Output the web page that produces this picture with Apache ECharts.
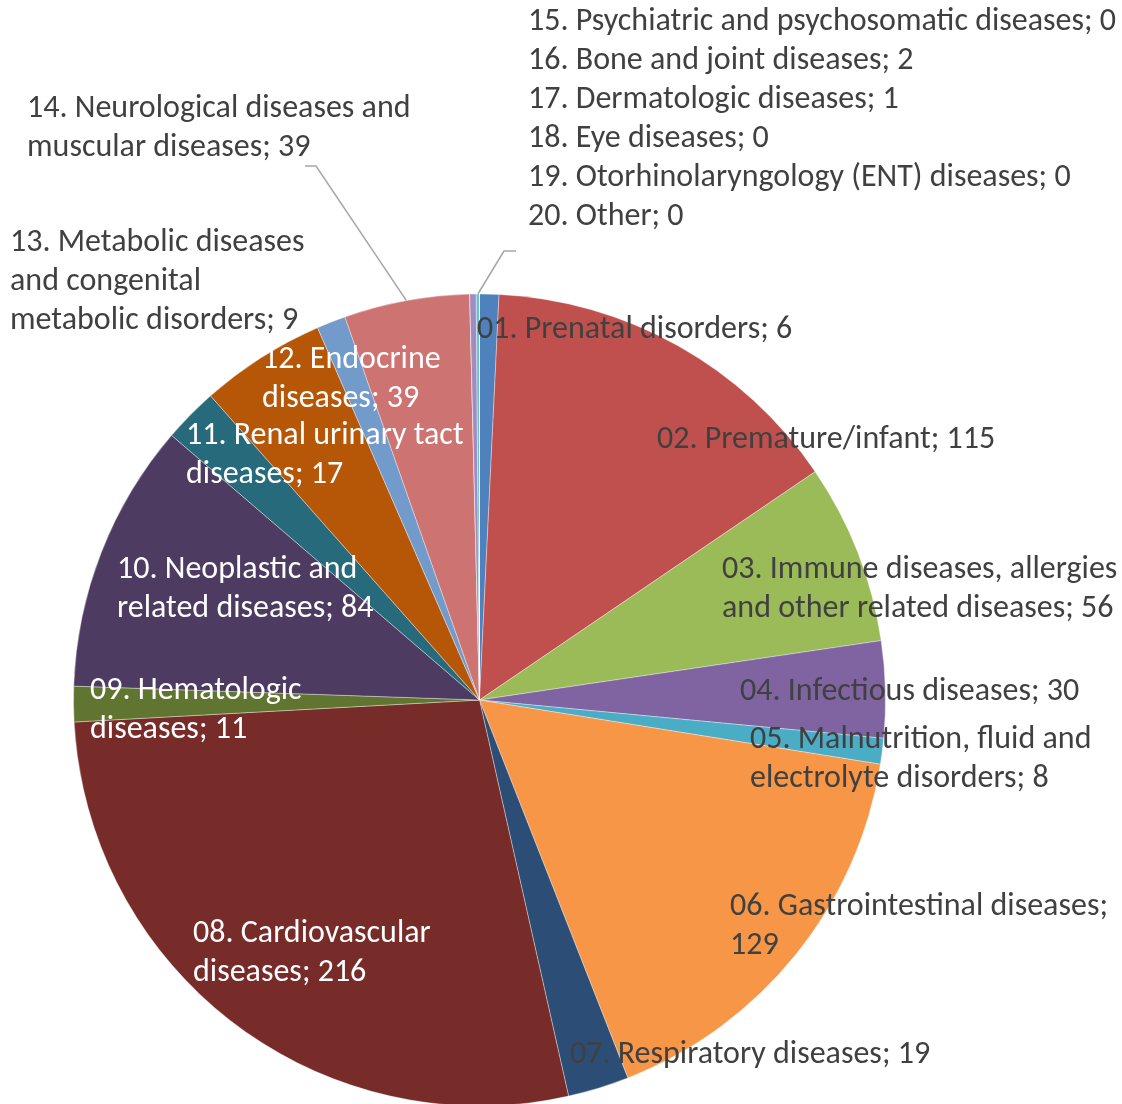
<!DOCTYPE html>
<html>
<head>
<meta charset="utf-8">
<script src="https://cdn.jsdelivr.net/npm/echarts@6/dist/echarts.min.js"></script>
<style>
  html, body { margin: 0; padding: 0; background: #ffffff; }
  #chart { width: 1122px; height: 1104px; }
</style>
</head>
<body>
<div id="chart"></div>
<script>
// Disease groups and number of cases in each
const categories = [
  '01. Prenatal disorders',
  '02. Premature/infant',
  '03. Immune diseases, allergies and other related diseases',
  '04. Infectious diseases',
  '05. Malnutrition, fluid and electrolyte disorders',
  '06. Gastrointestinal diseases',
  '07. Respiratory diseases',
  '08. Cardiovascular diseases',
  '09. Hematologic diseases',
  '10. Neoplastic and related diseases',
  '11. Renal urinary tact diseases',
  '12. Endocrine diseases',
  '13. Metabolic diseases and congenital metabolic disorders',
  '14. Neurological diseases and muscular diseases',
  '15. Psychiatric and psychosomatic diseases',
  '16. Bone and joint diseases',
  '17. Dermatologic diseases',
  '18. Eye diseases',
  '19. Otorhinolaryngology (ENT) diseases',
  '20. Other'
];
const counts = [6, 115, 56, 30, 8, 129, 19, 216, 11, 84, 17, 39, 9, 39, 0, 2, 1, 0, 0, 0];

const sliceColors = [
  '#4F81BD', '#C0504D', '#9BBB59', '#8064A2', '#4BACC6', '#F79646',
  '#2C4D75', '#772C2A', '#5F7530', '#4D3B62', '#276A7C', '#B65708',
  '#729ACA', '#CD7371', '#AFC97A', '#A08CC0', '#6FBFD4', '#F9B074',
  '#3A679C', '#9D3B38'
];

// words on each wrapped label row (the last row takes the rest)
const wordsPerLine = [[], [], [4], [], [4], [3], [], [2], [2], [3], [4], [2], [3, 2], [4], [], [], [], [], [], []];

// labels drawn in white on the dark slices
const whiteLabels = [7, 8, 9, 10, 11];

// label placement: left edge, centre of first row
const labelSpots = [
  [477, 328], [657, 438], [722, 568], [740, 690], [750, 738], [730, 905],
  [570, 1053], [193, 932], [90, 689], [117, 568], [186, 434], [262, 358],
  [10, 241], [27, 107], [528, 20], [528, 59], [528, 98], [528, 137], [528, 176], [528, 215]
];
// leader lines: elbow and end point near the label
const leaderEnds = {
  13: [[316, 166], [305, 166]],
  16: [[504, 251], [516, 251]]
};

const cx = 479.5, cy = 700, R = 406;
const LINE_H = 39;
const FONT_SIZE = 32;
const total = counts.reduce((a, b) => a + b, 0);

function wrapLabel(i) {
  const words = (categories[i] + '; ' + counts[i]).split(' ');
  const rows = [];
  let k = 0;
  wordsPerLine[i].forEach(function (n) { rows.push(words.slice(k, k + n).join(' ')); k += n; });
  rows.push(words.slice(k).join(' '));
  return rows.join('\n');
}

// point on the rim at the middle of slice i (clockwise from 12 o'clock)
function rimPoint(i) {
  let before = 0;
  for (let j = 0; j < i; j++) before += counts[j];
  const mid = (before + counts[i] / 2) / total * Math.PI * 2;
  return [cx + R * Math.sin(mid), cy - R * Math.cos(mid)];
}

const pieData = categories.map(function (name, i) {
  const hasLeader = leaderEnds[i] != null;
  return {
    name: name,
    value: counts[i],
    itemStyle: { color: sliceColors[i] },
    label: {
      position: hasLeader ? 'outside' : 'inside',
      color: whiteLabels.indexOf(i) >= 0 ? '#ffffff' : '#404040'
    },
    labelLine: { show: hasLeader }
  };
});

const chart = echarts.init(document.getElementById('chart'), null, { renderer: 'canvas' });
chart.setOption({
  backgroundColor: '#ffffff',
  animation: false,
  series: [{
    type: 'pie',
    center: [cx, cy],
    radius: R,
    startAngle: 90,
    clockwise: true,
    avoidLabelOverlap: false,
    minShowLabelAngle: 0,
    bleedMargin: -2000,
    itemStyle: { borderColor: 'rgba(255,255,255,0.6)', borderWidth: 0.6 },
    label: {
      show: true,
      formatter: function (p) { return wrapLabel(p.dataIndex); },
      fontFamily: 'Carlito, Calibri, Lato, sans-serif',
      fontSize: FONT_SIZE,
      lineHeight: LINE_H,
      width: 900,
      overflow: 'none'
    },
    labelLine: {
      lineStyle: { color: '#A6A6A6', width: 1.5 },
      smooth: false
    },
    emphasis: { disabled: true },
    labelLayout: function (p) {
      const i = p.dataIndex;
      const spot = labelSpots[i];
      const out = {
        x: spot[0],
        y: spot[1] - LINE_H / 2 + 2,
        align: 'left',
        verticalAlign: 'top'
      };
      if (leaderEnds[i]) {
        out.labelLinePoints = [rimPoint(i), leaderEnds[i][0], leaderEnds[i][1]];
      }
      return out;
    },
    data: pieData
  }]
});
</script>
</body>
</html>
